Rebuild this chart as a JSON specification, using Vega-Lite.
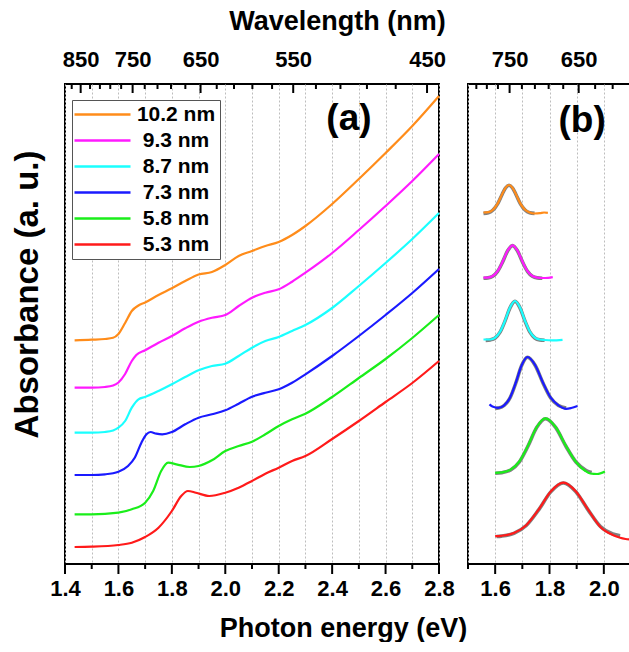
{
  "$schema": "https://vega.github.io/schema/vega-lite/v6.json",
  "padding": {"left": 9, "top": 6, "right": 0, "bottom": 0},
  "bounds": "flush",
  "spacing": 29,
  "config": {
    "view": {"stroke": "black", "strokeWidth": 2},
    "font": "Liberation Sans",
    "axis": {"labelFont": "Liberation Sans", "titleFont": "Liberation Sans", "labelFontWeight": "bold", "titleFontWeight": "bold", "labelColor": "black", "titleColor": "black"}
  },
  "datasets": {
    "a": [
      {"s":"10.2 nm","E":1.436,"A":2.237},{"s":"10.2 nm","E":1.5,"A":2.243},{"s":"10.2 nm","E":1.55,"A":2.25},{"s":"10.2 nm","E":1.58,"A":2.262},{"s":"10.2 nm","E":1.6,"A":2.30},{"s":"10.2 nm","E":1.625,"A":2.41},{"s":"10.2 nm","E":1.65,"A":2.53},{"s":"10.2 nm","E":1.675,"A":2.585},{"s":"10.2 nm","E":1.7,"A":2.615},{"s":"10.2 nm","E":1.75,"A":2.69},{"s":"10.2 nm","E":1.8,"A":2.757},{"s":"10.2 nm","E":1.85,"A":2.83},{"s":"10.2 nm","E":1.9,"A":2.895},{"s":"10.2 nm","E":1.95,"A":2.92},{"s":"10.2 nm","E":2.0,"A":2.99},{"s":"10.2 nm","E":2.05,"A":3.08},{"s":"10.2 nm","E":2.1,"A":3.13},{"s":"10.2 nm","E":2.15,"A":3.18},{"s":"10.2 nm","E":2.2,"A":3.22},{"s":"10.2 nm","E":2.25,"A":3.29},{"s":"10.2 nm","E":2.3,"A":3.38},{"s":"10.2 nm","E":2.4,"A":3.60},{"s":"10.2 nm","E":2.5,"A":3.85},{"s":"10.2 nm","E":2.6,"A":4.11},{"s":"10.2 nm","E":2.7,"A":4.38},{"s":"10.2 nm","E":2.8,"A":4.68},
      {"s":"9.3 nm","E":1.436,"A":1.763},{"s":"9.3 nm","E":1.5,"A":1.763},{"s":"9.3 nm","E":1.55,"A":1.77},{"s":"9.3 nm","E":1.58,"A":1.785},{"s":"9.3 nm","E":1.6,"A":1.815},{"s":"9.3 nm","E":1.625,"A":1.90},{"s":"9.3 nm","E":1.65,"A":2.03},{"s":"9.3 nm","E":1.667,"A":2.09},{"s":"9.3 nm","E":1.7,"A":2.137},{"s":"9.3 nm","E":1.75,"A":2.213},{"s":"9.3 nm","E":1.8,"A":2.28},{"s":"9.3 nm","E":1.85,"A":2.357},{"s":"9.3 nm","E":1.9,"A":2.423},{"s":"9.3 nm","E":1.95,"A":2.463},{"s":"9.3 nm","E":2.0,"A":2.49},{"s":"9.3 nm","E":2.05,"A":2.58},{"s":"9.3 nm","E":2.1,"A":2.663},{"s":"9.3 nm","E":2.15,"A":2.713},{"s":"9.3 nm","E":2.2,"A":2.747},{"s":"9.3 nm","E":2.25,"A":2.823},{"s":"9.3 nm","E":2.3,"A":2.913},{"s":"9.3 nm","E":2.4,"A":3.11},{"s":"9.3 nm","E":2.5,"A":3.34},{"s":"9.3 nm","E":2.6,"A":3.58},{"s":"9.3 nm","E":2.7,"A":3.83},{"s":"9.3 nm","E":2.8,"A":4.10},
      {"s":"8.7 nm","E":1.436,"A":1.313},{"s":"8.7 nm","E":1.5,"A":1.313},{"s":"8.7 nm","E":1.55,"A":1.32},{"s":"8.7 nm","E":1.58,"A":1.335},{"s":"8.7 nm","E":1.6,"A":1.363},{"s":"8.7 nm","E":1.625,"A":1.43},{"s":"8.7 nm","E":1.65,"A":1.563},{"s":"8.7 nm","E":1.675,"A":1.647},{"s":"8.7 nm","E":1.7,"A":1.67},{"s":"8.7 nm","E":1.75,"A":1.73},{"s":"8.7 nm","E":1.8,"A":1.797},{"s":"8.7 nm","E":1.85,"A":1.87},{"s":"8.7 nm","E":1.9,"A":1.937},{"s":"8.7 nm","E":1.95,"A":1.98},{"s":"8.7 nm","E":2.0,"A":2.003},{"s":"8.7 nm","E":2.05,"A":2.08},{"s":"8.7 nm","E":2.1,"A":2.163},{"s":"8.7 nm","E":2.15,"A":2.23},{"s":"8.7 nm","E":2.2,"A":2.27},{"s":"8.7 nm","E":2.25,"A":2.33},{"s":"8.7 nm","E":2.3,"A":2.39},{"s":"8.7 nm","E":2.4,"A":2.56},{"s":"8.7 nm","E":2.5,"A":2.78},{"s":"8.7 nm","E":2.6,"A":3.01},{"s":"8.7 nm","E":2.7,"A":3.25},{"s":"8.7 nm","E":2.8,"A":3.51},
      {"s":"7.3 nm","E":1.436,"A":0.89},{"s":"7.3 nm","E":1.5,"A":0.89},{"s":"7.3 nm","E":1.55,"A":0.897},{"s":"7.3 nm","E":1.6,"A":0.923},{"s":"7.3 nm","E":1.636,"A":0.98},{"s":"7.3 nm","E":1.661,"A":1.063},{"s":"7.3 nm","E":1.686,"A":1.213},{"s":"7.3 nm","E":1.705,"A":1.297},{"s":"7.3 nm","E":1.72,"A":1.32},{"s":"7.3 nm","E":1.742,"A":1.303},{"s":"7.3 nm","E":1.764,"A":1.297},{"s":"7.3 nm","E":1.8,"A":1.32},{"s":"7.3 nm","E":1.85,"A":1.397},{"s":"7.3 nm","E":1.9,"A":1.463},{"s":"7.3 nm","E":1.95,"A":1.497},{"s":"7.3 nm","E":2.0,"A":1.537},{"s":"7.3 nm","E":2.05,"A":1.603},{"s":"7.3 nm","E":2.1,"A":1.673},{"s":"7.3 nm","E":2.15,"A":1.713},{"s":"7.3 nm","E":2.2,"A":1.747},{"s":"7.3 nm","E":2.25,"A":1.813},{"s":"7.3 nm","E":2.3,"A":1.897},{"s":"7.3 nm","E":2.4,"A":2.08},{"s":"7.3 nm","E":2.5,"A":2.28},{"s":"7.3 nm","E":2.6,"A":2.49},{"s":"7.3 nm","E":2.7,"A":2.71},{"s":"7.3 nm","E":2.8,"A":2.95},
      {"s":"5.8 nm","E":1.436,"A":0.497},{"s":"5.8 nm","E":1.5,"A":0.497},{"s":"5.8 nm","E":1.6,"A":0.513},{"s":"5.8 nm","E":1.65,"A":0.547},{"s":"5.8 nm","E":1.7,"A":0.613},{"s":"5.8 nm","E":1.73,"A":0.73},{"s":"5.8 nm","E":1.76,"A":0.93},{"s":"5.8 nm","E":1.786,"A":1.013},{"s":"5.8 nm","E":1.817,"A":0.997},{"s":"5.8 nm","E":1.867,"A":0.97},{"s":"5.8 nm","E":1.9,"A":0.98},{"s":"5.8 nm","E":1.95,"A":1.037},{"s":"5.8 nm","E":2.0,"A":1.13},{"s":"5.8 nm","E":2.05,"A":1.18},{"s":"5.8 nm","E":2.1,"A":1.223},{"s":"5.8 nm","E":2.15,"A":1.297},{"s":"5.8 nm","E":2.2,"A":1.38},{"s":"5.8 nm","E":2.25,"A":1.447},{"s":"5.8 nm","E":2.3,"A":1.503},{"s":"5.8 nm","E":2.4,"A":1.67},{"s":"5.8 nm","E":2.5,"A":1.86},{"s":"5.8 nm","E":2.6,"A":2.05},{"s":"5.8 nm","E":2.7,"A":2.26},{"s":"5.8 nm","E":2.8,"A":2.49},
      {"s":"5.3 nm","E":1.436,"A":0.17},{"s":"5.3 nm","E":1.5,"A":0.173},{"s":"5.3 nm","E":1.6,"A":0.19},{"s":"5.3 nm","E":1.65,"A":0.213},{"s":"5.3 nm","E":1.7,"A":0.27},{"s":"5.3 nm","E":1.75,"A":0.363},{"s":"5.3 nm","E":1.8,"A":0.53},{"s":"5.3 nm","E":1.835,"A":0.68},{"s":"5.3 nm","E":1.86,"A":0.73},{"s":"5.3 nm","E":1.89,"A":0.713},{"s":"5.3 nm","E":1.94,"A":0.68},{"s":"5.3 nm","E":2.0,"A":0.713},{"s":"5.3 nm","E":2.05,"A":0.763},{"s":"5.3 nm","E":2.1,"A":0.83},{"s":"5.3 nm","E":2.15,"A":0.903},{"s":"5.3 nm","E":2.2,"A":0.963},{"s":"5.3 nm","E":2.25,"A":1.03},{"s":"5.3 nm","E":2.3,"A":1.08},{"s":"5.3 nm","E":2.4,"A":1.25},{"s":"5.3 nm","E":2.5,"A":1.43},{"s":"5.3 nm","E":2.6,"A":1.62},{"s":"5.3 nm","E":2.7,"A":1.81},{"s":"5.3 nm","E":2.8,"A":2.03}
    ],
    "b": [
      {"s":"10.2 nm","E":1.557,"A":3.515},{"s":"10.2 nm","E":1.575,"A":3.518},{"s":"10.2 nm","E":1.592,"A":3.543},{"s":"10.2 nm","E":1.609,"A":3.604},{"s":"10.2 nm","E":1.626,"A":3.70},{"s":"10.2 nm","E":1.638,"A":3.762},{"s":"10.2 nm","E":1.651,"A":3.79},{"s":"10.2 nm","E":1.664,"A":3.762},{"s":"10.2 nm","E":1.676,"A":3.70},{"s":"10.2 nm","E":1.693,"A":3.604},{"s":"10.2 nm","E":1.71,"A":3.543},{"s":"10.2 nm","E":1.727,"A":3.515},{"s":"10.2 nm","E":1.745,"A":3.505},{"s":"10.2 nm","E":1.765,"A":3.508},{"s":"10.2 nm","E":1.78,"A":3.515},{"s":"10.2 nm","E":1.794,"A":3.512},
      {"s":"9.3 nm","E":1.557,"A":2.863},{"s":"9.3 nm","E":1.573,"A":2.864},{"s":"9.3 nm","E":1.591,"A":2.88},{"s":"9.3 nm","E":1.609,"A":2.929},{"s":"9.3 nm","E":1.6275,"A":3.024},{"s":"9.3 nm","E":1.646,"A":3.135},{"s":"9.3 nm","E":1.664,"A":3.187},{"s":"9.3 nm","E":1.682,"A":3.135},{"s":"9.3 nm","E":1.7005,"A":3.024},{"s":"9.3 nm","E":1.719,"A":2.929},{"s":"9.3 nm","E":1.737,"A":2.88},{"s":"9.3 nm","E":1.755,"A":2.864},{"s":"9.3 nm","E":1.7735,"A":2.86},{"s":"9.3 nm","E":1.795,"A":2.862},{"s":"9.3 nm","E":1.812,"A":2.868},
      {"s":"8.7 nm","E":1.557,"A":2.245},{"s":"8.7 nm","E":1.582,"A":2.245},{"s":"8.7 nm","E":1.6,"A":2.264},{"s":"8.7 nm","E":1.618,"A":2.322},{"s":"8.7 nm","E":1.6365,"A":2.435},{"s":"8.7 nm","E":1.655,"A":2.568},{"s":"8.7 nm","E":1.673,"A":2.63},{"s":"8.7 nm","E":1.691,"A":2.568},{"s":"8.7 nm","E":1.7095,"A":2.435},{"s":"8.7 nm","E":1.728,"A":2.322},{"s":"8.7 nm","E":1.746,"A":2.264},{"s":"8.7 nm","E":1.764,"A":2.245},{"s":"8.7 nm","E":1.782,"A":2.24},{"s":"8.7 nm","E":1.81,"A":2.236},{"s":"8.7 nm","E":1.848,"A":2.242},
      {"s":"7.3 nm","E":1.579,"A":1.597},{"s":"7.3 nm","E":1.59,"A":1.575},{"s":"7.3 nm","E":1.6115,"A":1.562},{"s":"7.3 nm","E":1.633,"A":1.587},{"s":"7.3 nm","E":1.6545,"A":1.663},{"s":"7.3 nm","E":1.676,"A":1.813},{"s":"7.3 nm","E":1.6975,"A":1.988},{"s":"7.3 nm","E":1.719,"A":2.07},{"s":"7.3 nm","E":1.7475,"A":1.988},{"s":"7.3 nm","E":1.776,"A":1.813},{"s":"7.3 nm","E":1.8045,"A":1.663},{"s":"7.3 nm","E":1.833,"A":1.587},{"s":"7.3 nm","E":1.8615,"A":1.552},{"s":"7.3 nm","E":1.88,"A":1.56},{"s":"7.3 nm","E":1.903,"A":1.58},
      {"s":"5.8 nm","E":1.6,"A":0.912},{"s":"5.8 nm","E":1.625,"A":0.917},{"s":"5.8 nm","E":1.657,"A":0.944},{"s":"5.8 nm","E":1.689,"A":1.025},{"s":"5.8 nm","E":1.721,"A":1.184},{"s":"5.8 nm","E":1.753,"A":1.37},{"s":"5.8 nm","E":1.785,"A":1.457},{"s":"5.8 nm","E":1.8225,"A":1.37},{"s":"5.8 nm","E":1.86,"A":1.184},{"s":"5.8 nm","E":1.8975,"A":1.02},{"s":"5.8 nm","E":1.93,"A":0.935},{"s":"5.8 nm","E":1.95,"A":0.905},{"s":"5.8 nm","E":1.975,"A":0.9},{"s":"5.8 nm","E":2.004,"A":0.925},
      {"s":"5.3 nm","E":1.6,"A":0.278},{"s":"5.3 nm","E":1.6235,"A":0.282},{"s":"5.3 nm","E":1.669,"A":0.309},{"s":"5.3 nm","E":1.7145,"A":0.388},{"s":"5.3 nm","E":1.76,"A":0.544},{"s":"5.3 nm","E":1.8055,"A":0.727},{"s":"5.3 nm","E":1.851,"A":0.813},{"s":"5.3 nm","E":1.8965,"A":0.727},{"s":"5.3 nm","E":1.942,"A":0.544},{"s":"5.3 nm","E":1.9875,"A":0.37},{"s":"5.3 nm","E":2.033,"A":0.29},{"s":"5.3 nm","E":2.06,"A":0.262},{"s":"5.3 nm","E":2.08,"A":0.25},{"s":"5.3 nm","E":2.1,"A":0.243}
    ],
    "bfit": [
      {"s":"10.2 nm","E":1.557,"A":3.506},{"s":"10.2 nm","E":1.575,"A":3.513},{"s":"10.2 nm","E":1.592,"A":3.54},{"s":"10.2 nm","E":1.609,"A":3.602},{"s":"10.2 nm","E":1.626,"A":3.698},{"s":"10.2 nm","E":1.638,"A":3.76},{"s":"10.2 nm","E":1.651,"A":3.788},{"s":"10.2 nm","E":1.664,"A":3.76},{"s":"10.2 nm","E":1.676,"A":3.698},{"s":"10.2 nm","E":1.693,"A":3.602},{"s":"10.2 nm","E":1.71,"A":3.54},{"s":"10.2 nm","E":1.727,"A":3.513},{"s":"10.2 nm","E":1.745,"A":3.506},
      {"s":"9.3 nm","E":1.557,"A":2.858},{"s":"9.3 nm","E":1.573,"A":2.861},{"s":"9.3 nm","E":1.591,"A":2.877},{"s":"9.3 nm","E":1.609,"A":2.926},{"s":"9.3 nm","E":1.6275,"A":3.021},{"s":"9.3 nm","E":1.646,"A":3.132},{"s":"9.3 nm","E":1.664,"A":3.184},{"s":"9.3 nm","E":1.682,"A":3.132},{"s":"9.3 nm","E":1.7005,"A":3.021},{"s":"9.3 nm","E":1.719,"A":2.926},{"s":"9.3 nm","E":1.737,"A":2.877},{"s":"9.3 nm","E":1.755,"A":2.861},{"s":"9.3 nm","E":1.7735,"A":2.858},
      {"s":"8.7 nm","E":1.565,"A":2.236},{"s":"8.7 nm","E":1.582,"A":2.241},{"s":"8.7 nm","E":1.6,"A":2.26},{"s":"8.7 nm","E":1.618,"A":2.318},{"s":"8.7 nm","E":1.6365,"A":2.431},{"s":"8.7 nm","E":1.655,"A":2.564},{"s":"8.7 nm","E":1.673,"A":2.626},{"s":"8.7 nm","E":1.691,"A":2.564},{"s":"8.7 nm","E":1.7095,"A":2.431},{"s":"8.7 nm","E":1.728,"A":2.318},{"s":"8.7 nm","E":1.746,"A":2.26},{"s":"8.7 nm","E":1.764,"A":2.241},{"s":"8.7 nm","E":1.782,"A":2.237},
      {"s":"7.3 nm","E":1.6,"A":1.556},{"s":"7.3 nm","E":1.6115,"A":1.56},{"s":"7.3 nm","E":1.633,"A":1.585},{"s":"7.3 nm","E":1.6545,"A":1.66},{"s":"7.3 nm","E":1.676,"A":1.81},{"s":"7.3 nm","E":1.6975,"A":1.985},{"s":"7.3 nm","E":1.719,"A":2.067},{"s":"7.3 nm","E":1.7475,"A":1.985},{"s":"7.3 nm","E":1.776,"A":1.81},{"s":"7.3 nm","E":1.8045,"A":1.66},{"s":"7.3 nm","E":1.833,"A":1.585},{"s":"7.3 nm","E":1.8615,"A":1.56},
      {"s":"5.8 nm","E":1.6,"A":0.907},{"s":"5.8 nm","E":1.625,"A":0.913},{"s":"5.8 nm","E":1.657,"A":0.94},{"s":"5.8 nm","E":1.689,"A":1.02},{"s":"5.8 nm","E":1.721,"A":1.18},{"s":"5.8 nm","E":1.753,"A":1.366},{"s":"5.8 nm","E":1.785,"A":1.453},{"s":"5.8 nm","E":1.8225,"A":1.366},{"s":"5.8 nm","E":1.86,"A":1.18},{"s":"5.8 nm","E":1.8975,"A":1.02},{"s":"5.8 nm","E":1.935,"A":0.935},{"s":"5.8 nm","E":1.955,"A":0.915},
      {"s":"5.3 nm","E":1.605,"A":0.275},{"s":"5.3 nm","E":1.6235,"A":0.279},{"s":"5.3 nm","E":1.669,"A":0.306},{"s":"5.3 nm","E":1.7145,"A":0.385},{"s":"5.3 nm","E":1.76,"A":0.541},{"s":"5.3 nm","E":1.8055,"A":0.724},{"s":"5.3 nm","E":1.851,"A":0.81},{"s":"5.3 nm","E":1.8965,"A":0.724},{"s":"5.3 nm","E":1.942,"A":0.541},{"s":"5.3 nm","E":1.9875,"A":0.375},{"s":"5.3 nm","E":2.033,"A":0.3},{"s":"5.3 nm","E":2.06,"A":0.282}
    ],
    "ta_bmaj": [{"E":1.4},{"E":1.6},{"E":1.8},{"E":2.0},{"E":2.2},{"E":2.4},{"E":2.6},{"E":2.8}],
    "ta_bmin": [{"E":1.5},{"E":1.7},{"E":1.9},{"E":2.1},{"E":2.3},{"E":2.5},{"E":2.7}],
    "ta_tmaj": [{"E":1.458635},{"E":1.65312},{"E":1.907446},{"E":2.254255},{"E":2.7552}],
    "ta_tmin": [{"E":1.425103},{"E":1.493783},{"E":1.530667},{"E":1.569418},{"E":1.610182},{"E":1.698411},{"E":1.746254},{"E":1.79687},{"E":1.850507},{"E":1.968},{"E":2.032525},{"E":2.101424},{"E":2.175158},{"E":2.339321},{"E":2.431059},{"E":2.530286},{"E":2.637957}],
    "tb_bmaj": [{"E":1.6},{"E":1.8},{"E":2.0}],
    "tb_bmin": [{"E":1.5},{"E":1.7},{"E":1.9},{"E":2.1}],
    "tb_tmaj": [{"E":1.65312},{"E":1.907446}],
    "tb_tmin": [{"E":1.530667},{"E":1.569418},{"E":1.610182},{"E":1.698411},{"E":1.746254},{"E":1.79687},{"E":1.850507},{"E":1.968},{"E":2.032525}]
  },
  "resolve": {"scale": {"color": "independent"}, "legend": {"color": "independent"}},
  "hconcat": [
    {
      "width": 374,
      "height": 480,
      "layer": [
        {
          "data": {"name": "a"},
          "mark": {"type": "line", "strokeWidth": 2.2, "interpolate": "monotone"},
          "encoding": {
            "x": {"field": "E", "type": "quantitative", "scale": {"domain": [1.4, 2.8], "nice": false, "zero": false},
              "axis": {"orient": "bottom", "values": [1.4,1.5,1.6,1.7,1.8,1.9,2.0,2.1,2.2,2.3,2.4,2.5,2.6,2.7,2.8],
                "labelExpr": "round(datum.value*10) % 2 == 0 ? format(datum.value, '.1f') : ''",
                "ticks": false, "tickSize": 0, "labelFontSize": 22, "labelPadding": 14, "labelOverlap": false, "labelFlush": false, "labelBound": false,
                "grid": true, "gridColor": "#bdbdbd", "gridDash": [2, 2], "gridWidth": 1, "domain": false,
                "title": "Photon energy (eV)", "titleFontSize": 27, "titleX": 278, "titleY": 72, "titleAlign": "center", "titleBaseline": "alphabetic"}},
            "y": {"field": "A", "type": "quantitative", "scale": {"domain": [0, 4.8], "nice": false, "zero": false},
              "axis": {"title": "Absorbance (a. u.)", "labels": false, "ticks": false, "domain": false, "grid": false,
                "titleFontSize": 33, "titleAngle": 270, "titleX": -28, "titleY": 210, "titleAlign": "center", "titleBaseline": "alphabetic"}},
            "color": {"field": "s", "type": "nominal",
              "scale": {"domain": ["10.2 nm","9.3 nm","8.7 nm","7.3 nm","5.8 nm","5.3 nm"], "range": ["#ff8c1a","#ff1aff","#1affff","#1a1aff","#1aee1a","#ff1a1a"]},
              "legend": {"orient": "none", "legendX": 7, "legendY": 16, "title": null, "symbolType": "M-4,0H4", "symbolSize": 196, "symbolOffset": 16, "symbolStrokeWidth": 2.5,
                "labelFont": "Liberation Sans", "labelFontWeight": "bold", "labelFontSize": 21, "labelColor": "black", "labelAlign": "center", "labelOffset": 63,
                "strokeColor": "#555555", "fillColor": "white", "padding": 4, "rowPadding": 4}}
          }
        },
        {
          "data": {"values": [{}]},
          "mark": {"type": "text", "text": "(a)", "font": "Liberation Sans", "fontSize": 37, "fontWeight": "bold", "align": "center", "baseline": "middle", "color": "black"},
          "encoding": {
            "x": {"datum": 2.463, "type": "quantitative",
              "axis": {"orient": "top", "values": [1.458635,1.65312,1.907446,2.254255,2.7552],
                "labelExpr": "'' + round(1239.84/datum.value)",
                "ticks": false, "tickSize": 0, "labelFontSize": 22, "labelPadding": 13, "labelOverlap": false, "labelFlush": false, "labelBound": false,
                "grid": false, "domain": false,
                "title": "Wavelength (nm)", "titleFontSize": 27, "titleX": 272, "titleY": -55, "titleAlign": "center", "titleBaseline": "alphabetic"}},
            "y": {"datum": 4.45, "type": "quantitative", "axis": null}
          }
        },
        {
          "data": {"name": "ta_bmaj"},
          "mark": {"type": "rule", "color": "black", "strokeWidth": 2, "clip": false},
          "encoding": {"x": {"field": "E", "type": "quantitative", "axis": null}, "y": {"datum": 0, "type": "quantitative", "axis": null}, "y2": {"datum": -0.1}}
        },
        {
          "data": {"name": "ta_bmin"},
          "mark": {"type": "rule", "color": "black", "strokeWidth": 2, "clip": false},
          "encoding": {"x": {"field": "E", "type": "quantitative", "axis": null}, "y": {"datum": 0, "type": "quantitative", "axis": null}, "y2": {"datum": -0.05}}
        },
        {
          "data": {"name": "ta_tmaj"},
          "mark": {"type": "rule", "color": "black", "strokeWidth": 2, "clip": false},
          "encoding": {"x": {"field": "E", "type": "quantitative", "axis": null}, "y": {"datum": 4.8, "type": "quantitative", "axis": null}, "y2": {"datum": 4.71}}
        },
        {
          "data": {"name": "ta_tmin"},
          "mark": {"type": "rule", "color": "black", "strokeWidth": 2, "clip": false},
          "encoding": {"x": {"field": "E", "type": "quantitative", "axis": null}, "y": {"datum": 4.8, "type": "quantitative", "axis": null}, "y2": {"datum": 4.75}}
        }
      ],
      "resolve": {"axis": {"x": "independent", "y": "independent"}}
    },
    {
      "width": 163,
      "height": 480,
      "layer": [
        {
          "data": {"name": "bfit"},
          "mark": {"type": "line", "color": "#808080", "strokeWidth": 3.6, "interpolate": "monotone", "clip": true},
          "encoding": {
            "x": {"field": "E", "type": "quantitative", "scale": {"domain": [1.5, 2.1], "nice": false, "zero": false},
              "axis": {"orient": "bottom", "values": [1.5,1.6,1.7,1.8,1.9,2.0,2.1],
                "labelExpr": "round(datum.value*10) % 2 == 0 ? format(datum.value, '.1f') : ''",
                "ticks": false, "tickSize": 0, "labelFontSize": 22, "labelPadding": 14, "labelOverlap": false, "labelFlush": false, "labelBound": false,
                "grid": true, "gridColor": "#bdbdbd", "gridDash": [2, 2], "gridWidth": 1, "domain": false, "title": null}},
            "y": {"field": "A", "type": "quantitative", "scale": {"domain": [0, 4.8], "nice": false, "zero": false}, "axis": null},
            "detail": {"field": "s", "type": "nominal"}
          }
        },
        {
          "data": {"name": "b"},
          "mark": {"type": "line", "strokeWidth": 2.2, "interpolate": "monotone", "clip": true},
          "encoding": {
            "x": {"field": "E", "type": "quantitative", "axis": null},
            "y": {"field": "A", "type": "quantitative", "axis": null},
            "color": {"field": "s", "type": "nominal",
              "scale": {"domain": ["10.2 nm","9.3 nm","8.7 nm","7.3 nm","5.8 nm","5.3 nm"], "range": ["#ff8c1a","#ff1aff","#1affff","#1a1aff","#1aee1a","#ff1a1a"]},
              "legend": null}
          }
        },
        {
          "data": {"values": [{}]},
          "mark": {"type": "text", "text": "(b)", "font": "Liberation Sans", "fontSize": 37, "fontWeight": "bold", "align": "center", "baseline": "middle", "color": "black"},
          "encoding": {
            "x": {"datum": 1.92, "type": "quantitative",
              "axis": {"orient": "top", "values": [1.65312,1.907446],
                "labelExpr": "'' + round(1239.84/datum.value)",
                "ticks": false, "tickSize": 0, "labelFontSize": 22, "labelPadding": 13, "labelOverlap": false, "labelFlush": false, "labelBound": false,
                "grid": false, "domain": false, "title": null}},
            "y": {"datum": 4.43, "type": "quantitative", "axis": null}
          }
        },
        {
          "data": {"name": "tb_bmaj"},
          "mark": {"type": "rule", "color": "black", "strokeWidth": 2, "clip": false},
          "encoding": {"x": {"field": "E", "type": "quantitative", "axis": null}, "y": {"datum": 0, "type": "quantitative", "axis": null}, "y2": {"datum": -0.1}}
        },
        {
          "data": {"name": "tb_bmin"},
          "mark": {"type": "rule", "color": "black", "strokeWidth": 2, "clip": false},
          "encoding": {"x": {"field": "E", "type": "quantitative", "axis": null}, "y": {"datum": 0, "type": "quantitative", "axis": null}, "y2": {"datum": -0.05}}
        },
        {
          "data": {"name": "tb_tmaj"},
          "mark": {"type": "rule", "color": "black", "strokeWidth": 2, "clip": false},
          "encoding": {"x": {"field": "E", "type": "quantitative", "axis": null}, "y": {"datum": 4.8, "type": "quantitative", "axis": null}, "y2": {"datum": 4.71}}
        },
        {
          "data": {"name": "tb_tmin"},
          "mark": {"type": "rule", "color": "black", "strokeWidth": 2, "clip": false},
          "encoding": {"x": {"field": "E", "type": "quantitative", "axis": null}, "y": {"datum": 4.8, "type": "quantitative", "axis": null}, "y2": {"datum": 4.75}}
        }
      ],
      "resolve": {"axis": {"x": "independent"}}
    }
  ]
}
